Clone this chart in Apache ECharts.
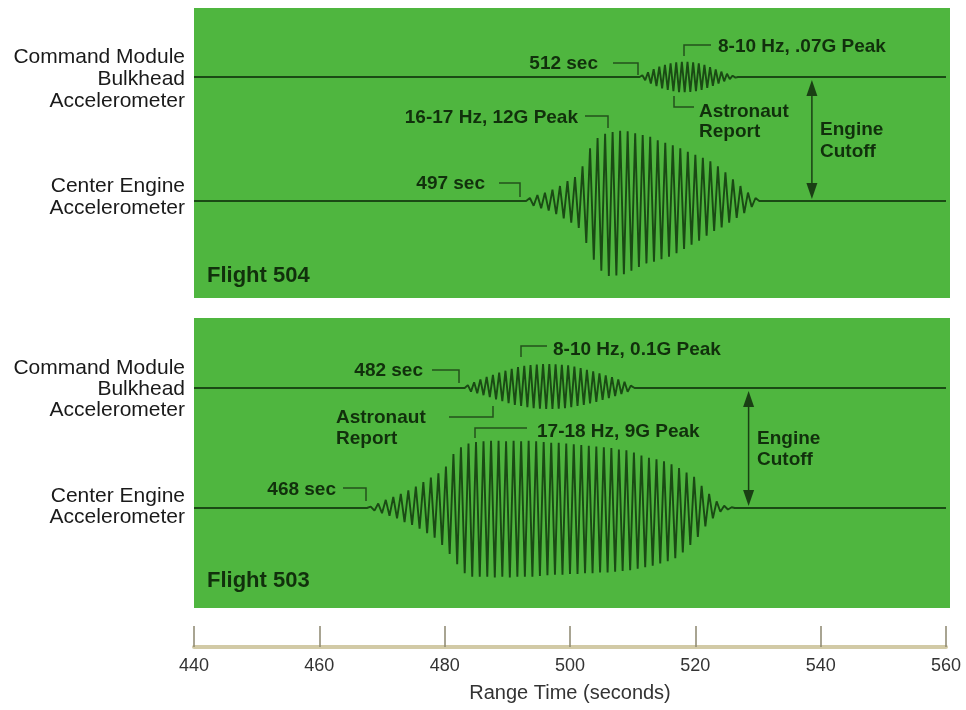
<!DOCTYPE html>
<html>
<head>
<meta charset="utf-8">
<script src="https://cdn.jsdelivr.net/npm/echarts@6/dist/echarts.min.js"></script>
<style>html,body{margin:0;padding:0;background:#fff}#c{width:966px;height:710px}</style>
</head>
<body>
<div id="c"></div>
<script>
// ---------------- DATA ----------------
const timeTicks = [440, 460, 480, 500, 520, 540, 560];
const axisTitle = 'Range Time (seconds)';
const traceLabels = ['Command Module\nBulkhead\nAccelerometer', 'Center Engine\nAccelerometer'];
const flightNames = ['Flight 504', 'Flight 503'];
const engineCutoffTimes = [538.6, 528.5]; // Flight 504, Flight 503

// Flight 504 - Command Module bulkhead accelerometer [time s, G]
const cm504 = [[440,0],[511.1,0],[511.55,0.008],[512.0,-0.015],[512.45,0.022],[512.9,-0.03],[513.35,0.036],[513.8,-0.042],
 [514.25,0.048],[514.7,-0.053],[515.15,0.057],[515.6,-0.06],[516.05,0.064],[516.5,-0.066],[516.95,0.068],[517.4,-0.07],
 [517.85,0.07],[518.3,-0.07],[518.75,0.07],[519.2,-0.069],[519.65,0.068],[520.1,-0.066],[520.55,0.063],[521.0,-0.06],
 [521.45,0.056],[521.9,-0.051],[522.35,0.046],[522.8,-0.041],[523.25,0.035],[523.7,-0.03],[524.15,0.025],[524.6,-0.02],
 [525.05,0.015],[525.5,-0.01],[525.95,0.006],[526.4,-0.003],[526.8,0],[560,0]];

// Flight 504 - Center engine accelerometer [time s, G]
const ce504 = [[440,0],[493.0,0],[493.6,0.5],[494.2,-0.8],[494.8,1.0],[495.4,-1.2],[496.0,1.4],[496.6,-1.6],[497.2,1.9],
 [497.8,-2.2],[498.4,2.5],[499.0,-2.9],[499.6,3.3],[500.2,-3.6],[500.8,4.0],[501.4,-4.5],[502.0,5.8],[502.6,-7.0],
 [503.2,8.8],[503.8,-9.8],[504.4,10.5],[505.0,-11.6],[505.6,11.2],[506.2,-12.5],[506.8,11.5],[507.4,-12.4],[508.0,11.7],
 [508.6,-12.2],[509.2,11.6],[509.8,-11.6],[510.4,11.3],[511.0,-11.0],[511.6,11.0],[512.2,-10.4],[512.8,10.7],[513.4,-10.1],
 [514.0,10.1],[514.6,-9.7],[515.2,9.7],[515.8,-9.3],[516.4,9.3],[517.0,-8.7],[517.6,8.8],[518.2,-8.0],[518.8,8.2],
 [519.4,-7.3],[520.0,7.7],[520.6,-6.6],[521.2,7.2],[521.8,-5.8],[522.4,6.6],[523.0,-5.0],[523.6,5.8],[524.2,-4.4],
 [524.8,4.8],[525.4,-3.6],[526.0,3.6],[526.6,-2.8],[527.2,2.5],[527.8,-2.0],[528.4,1.4],[529.0,-1.0],[529.6,0.5],
 [530.2,0],[560,0]];

// Flight 503 - Command Module bulkhead accelerometer [time s, G]
const cm503 = [[440,0],[483.2,0],[483.7,0.012],[484.2,-0.015],[484.7,0.024],[485.2,-0.022],[485.7,0.036],[486.2,-0.03],
 [486.7,0.046],[487.2,-0.038],[487.7,0.055],[488.2,-0.047],[488.7,0.064],[489.2,-0.055],[489.7,0.072],[490.2,-0.063],
 [490.7,0.08],[491.2,-0.07],[491.7,0.087],[492.2,-0.075],[492.7,0.092],[493.2,-0.08],[493.7,0.096],[494.2,-0.084],
 [494.7,0.098],[495.2,-0.086],[495.7,0.1],[496.2,-0.087],[496.7,0.1],[497.2,-0.087],[497.7,0.099],[498.2,-0.086],
 [498.7,0.097],[499.2,-0.084],[499.7,0.094],[500.2,-0.08],[500.7,0.089],[501.2,-0.075],[501.7,0.083],[502.2,-0.07],
 [502.7,0.076],[503.2,-0.064],[503.7,0.069],[504.2,-0.058],[504.7,0.061],[505.2,-0.05],[505.7,0.053],[506.2,-0.042],
 [506.7,0.045],[507.2,-0.034],[507.7,0.036],[508.2,-0.025],[508.7,0.026],[509.2,-0.016],[509.7,0.01],[510.3,0],[560,0]];

// Flight 503 - Center engine accelerometer [time s, G]
const ce503 = [[440,0],[467.6,0],[468.2,0.2],[468.8,-0.35],[469.4,0.6],[470.0,-0.7],[470.6,1.1],[471.2,-1.05],[471.8,1.5],
 [472.4,-1.4],[473.0,1.9],[473.6,-1.9],[474.2,2.4],[474.8,-2.3],[475.4,2.9],[476.0,-2.8],[476.6,3.5],[477.2,-3.4],
 [477.8,4.1],[478.4,-4.0],[479.0,4.7],[479.6,-5.0],[480.2,5.6],[480.8,-6.2],[481.4,7.3],[482.0,-7.6],[482.6,8.2],
 [483.2,-8.8],[483.8,8.7],[484.4,-9.3],[485.0,8.9],[485.6,-9.3],[486.2,9.0],[486.8,-9.3],[487.4,9.1],[488.0,-9.4],
 [488.6,9.1],[489.2,-9.3],[489.8,9.0],[490.4,-9.4],[491.0,9.1],[491.6,-9.3],[492.2,9.0],[492.8,-9.3],[493.4,9.1],
 [494.0,-9.3],[494.6,9.0],[495.2,-9.2],[495.8,8.9],[496.4,-9.1],[497.0,8.8],[497.6,-9.0],[498.2,8.8],[498.8,-9.0],
 [499.4,8.7],[500.0,-8.9],[500.6,8.6],[501.2,-8.9],[501.8,8.5],[502.4,-8.8],[503.0,8.4],[503.6,-8.8],[504.2,8.3],
 [504.8,-8.7],[505.4,8.2],[506.0,-8.7],[506.6,8.1],[507.2,-8.6],[507.8,7.9],[508.4,-8.5],[509.0,7.8],[509.6,-8.4],
 [510.2,7.5],[510.8,-8.2],[511.4,7.1],[512.0,-8.0],[512.6,6.8],[513.2,-7.8],[513.8,6.6],[514.4,-7.5],[515.0,6.3],
 [515.6,-7.2],[516.2,5.9],[516.8,-6.8],[517.4,5.4],[518.0,-6.0],[518.6,4.8],[519.2,-5.0],[519.8,4.2],[520.4,-3.9],
 [521.0,3.0],[521.6,-2.5],[522.2,1.9],[522.8,-1.4],[523.4,0.9],[524.0,-0.5],[524.6,0.3],[525.2,-0.2],[525.8,0.1],
 [526.3,0],[560,0]];

// ---------------- STYLE / LAYOUT ----------------
const GREEN = '#4fb63f';
const TRACE = '#1a4a14';
const INK = '#11300c';
const LEFT = 194, PLOT_W = 752;
const annFont = 'bold 19px "Liberation Sans", Arial, sans-serif';
const labFont = '21px "Liberation Sans", Arial, sans-serif';

const chart = echarts.init(document.getElementById('c'), null, {renderer: 'canvas'});

// grids: 0,1 panels; 2..5 traces; 6 axis
const grids = [
  {left: LEFT, top: 8, width: 756, height: 290, show: true, backgroundColor: GREEN, borderWidth: 0},
  {left: LEFT, top: 318, width: 756, height: 290, show: true, backgroundColor: GREEN, borderWidth: 0},
  {left: LEFT, width: PLOT_W, top: 55.5, height: 43},
  {left: LEFT, width: PLOT_W, top: 117, height: 168},
  {left: LEFT, width: PLOT_W, top: 364, height: 48},
  {left: LEFT, width: PLOT_W, top: 434, height: 148},
  {left: LEFT, width: PLOT_W, top: 600, height: 47}
];
const yRanges = [[0,1],[0,1],[-0.1,0.1],[-14,14],[-0.1,0.1],[-10,10],[0,1]];

const xAxes = grids.map((g, i) => ({
  gridIndex: i, type: 'value', min: timeTicks[0], max: timeTicks[timeTicks.length - 1], interval: 20,
  show: i === 6,
  axisLine: {show: true, lineStyle: {color: '#d2caa6', width: 4}},
  axisTick: {show: true, inside: true, length: 21, lineStyle: {color: '#8c876f', width: 1.5}},
  axisLabel: {show: true, margin: 10, fontSize: 18, color: '#333', fontFamily: '"Liberation Sans", Arial, sans-serif'},
  splitLine: {show: false},
  name: i === 6 ? axisTitle : '', nameLocation: 'middle', nameGap: 36,
  nameTextStyle: {fontSize: 20, color: '#333', fontFamily: '"Liberation Sans", Arial, sans-serif'}
}));
const yAxes = grids.map((g, i) => ({gridIndex: i, type: 'value', min: yRanges[i][0], max: yRanges[i][1], show: false}));

const traces = [cm504, ce504, cm503, ce503];
const series = traces.map((d, k) => ({
  type: 'line', xAxisIndex: k + 2, yAxisIndex: k + 2, data: d, showSymbol: false, symbol: 'none',
  lineStyle: {color: TRACE, width: 1.9}, z: 3, clip: false, animation: false
}));

chart.setOption({animation: false, grid: grids, xAxis: xAxes, yAxis: yAxes, series: series});

// ---------------- ANNOTATIONS ----------------
function txt(text, x, y, align, font, fill, lh) {
  return {type: 'text', x: x, y: y, z: 10, style: {text: text, font: font || annFont, fill: fill || INK,
    align: align || 'left', verticalAlign: 'middle', lineHeight: lh || 21}};
}
function leader(pts) {
  return {type: 'polyline', z: 10, shape: {points: pts}, style: {stroke: '#24521c', lineWidth: 1.5, fill: null}};
}
function arrow(x, y1, y2) {
  const h = 16, w = 5.5;
  return [
    {type: 'line', z: 10, shape: {x1: x, y1: y1 + h, x2: x, y2: y2 - h}, style: {stroke: '#1a3f14', lineWidth: 1.5}},
    {type: 'polygon', z: 10, shape: {points: [[x, y1], [x - w, y1 + h], [x + w, y1 + h]]}, style: {fill: '#1a3f14'}},
    {type: 'polygon', z: 10, shape: {points: [[x, y2], [x - w, y2 - h], [x + w, y2 - h]]}, style: {fill: '#1a3f14'}}
  ];
}

const g = [];
// left labels
g.push(txt(traceLabels[0], 185, 79, 'right', labFont, '#1a1a1a', 22));
g.push(txt(traceLabels[1], 185, 197, 'right', labFont, '#1a1a1a', 22));
g.push(txt(traceLabels[0], 185, 389, 'right', labFont, '#1a1a1a', 21));
g.push(txt(traceLabels[1], 185, 507, 'right', labFont, '#1a1a1a', 21));

// Flight 504
g.push(txt('512 sec', 598, 64, 'right'));
g.push(leader([[613, 63], [638, 63], [638, 75]]));
g.push(txt('8-10 Hz, .07G Peak', 718, 47, 'left'));
g.push(leader([[711, 45], [684, 45], [684, 56]]));
g.push(txt('Astronaut\nReport', 699, 122, 'left', null, null, 20));
g.push(leader([[674, 96], [674, 107], [694, 107]]));
g.push(txt('16-17 Hz, 12G Peak', 578, 118, 'right'));
g.push(leader([[585, 116], [608, 116], [608, 128]]));
g.push(txt('497 sec', 485, 184, 'right'));
g.push(leader([[499, 183], [520, 183], [520, 197]]));
g.push(txt('Engine\nCutoff', 820, 141, 'left', null, null, 22));
g.push(txt(flightNames[0], 207, 276, 'left', 'bold 22px "Liberation Sans", Arial, sans-serif'));

// Flight 503
g.push(txt('482 sec', 423, 371, 'right'));
g.push(leader([[432, 370], [459, 370], [459, 383]]));
g.push(txt('8-10 Hz, 0.1G Peak', 553, 350, 'left'));
g.push(leader([[547, 346], [521, 346], [521, 357]]));
g.push(txt('Astronaut\nReport', 336, 428, 'left', null, null, 21));
g.push(leader([[449, 417], [493, 417], [493, 406]]));
g.push(txt('17-18 Hz, 9G Peak', 537, 432, 'left'));
g.push(leader([[527, 428], [475, 428], [475, 438]]));
g.push(txt('468 sec', 336, 490, 'right'));
g.push(leader([[343, 488], [366, 488], [366, 501]]));
g.push(txt('Engine\nCutoff', 757, 449, 'left', null, null, 21));
g.push(txt(flightNames[1], 207, 581, 'left', 'bold 22px "Liberation Sans", Arial, sans-serif'));

// engine cutoff arrows placed through the axes
[[0, 2, 3], [1, 4, 5]].forEach(([f, gi1, gi2]) => {
  const p1 = chart.convertToPixel({gridIndex: gi1}, [engineCutoffTimes[f], 0]);
  const p2 = chart.convertToPixel({gridIndex: gi2}, [engineCutoffTimes[f], 0]);
  arrow(p1[0], p1[1] + 3, p2[1] - 2).forEach(e => g.push(e));
});

chart.setOption({graphic: {elements: g}});
</script>
</body>
</html>
